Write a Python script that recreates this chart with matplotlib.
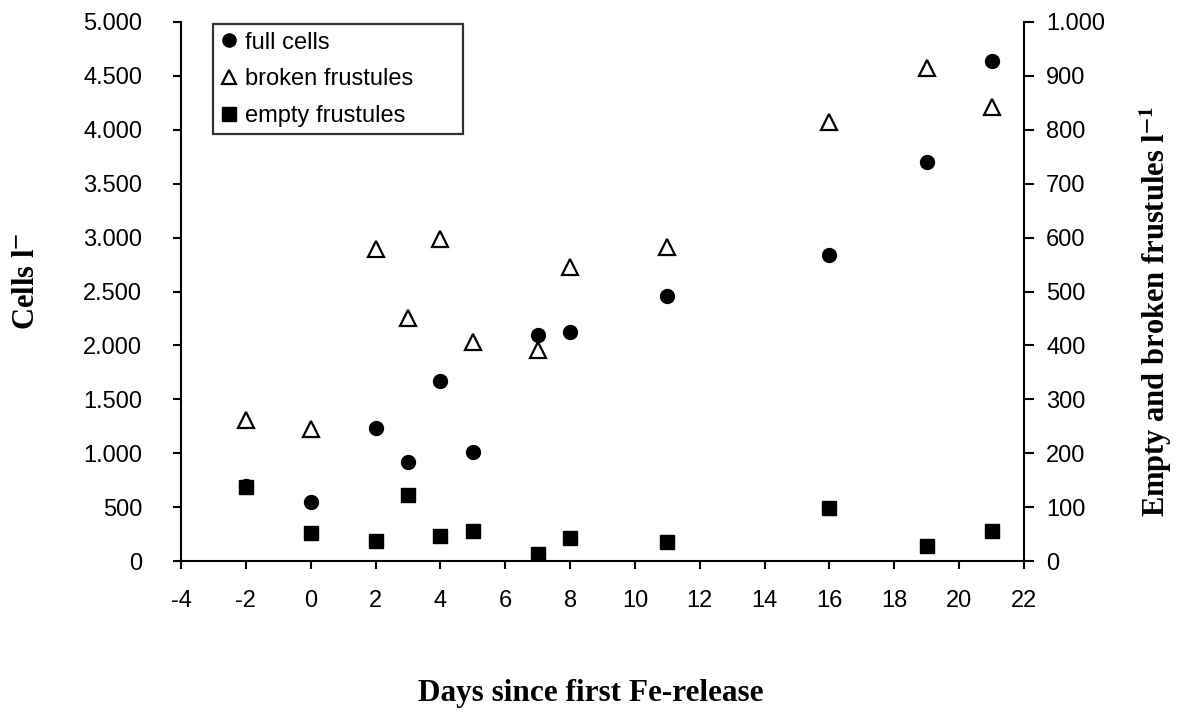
import matplotlib
matplotlib.use("Agg")
import matplotlib.pyplot as plt
from matplotlib.ticker import FuncFormatter, MultipleLocator

plt.rcParams['font.family'] = ['Liberation Sans', 'DejaVu Sans']
plt.rcParams['mathtext.fontset'] = 'stix'
plt.rcParams['axes.unicode_minus'] = False

days = [-2, 0, 2, 3, 4, 5, 7, 8, 11, 16, 19, 21]
full_cells = [696, 543, 1235, 923, 1668, 1015, 2098, 2123, 2460, 2840, 3698, 4636]
broken_frustules = [262, 244, 579, 450, 598, 407, 391, 545, 583, 814, 914, 842]
empty_frustules = [137, 52, 37, 123, 47, 56, 13, 42, 36, 99, 27, 55]

x_ticks = list(range(-4, 23, 2))

fig = plt.figure(figsize=(11.79, 7.16), dpi=100)
ax = fig.add_axes([181/1179, 1 - 561/716, (1024 - 181)/1179, (561 - 22)/716])
ax2 = ax.twinx()

def thousands(v, pos):
    v = int(round(v))
    if v >= 1000:
        return f"{v // 1000}.{v % 1000:03d}"
    return str(v)

def plain(v, pos):
    return f"{int(round(v))}"

ax.set_xlim(-4, 22)
ax.set_ylim(0, 5000)
ax2.set_ylim(0, 1000)
ax.set_xticks(x_ticks)
ax.xaxis.set_major_formatter(FuncFormatter(plain))
ax.yaxis.set_major_locator(MultipleLocator(500))
ax2.yaxis.set_major_locator(MultipleLocator(100))
ax.yaxis.set_major_formatter(FuncFormatter(thousands))
ax2.yaxis.set_major_formatter(FuncFormatter(thousands))

for a in (ax, ax2):
    a.spines['top'].set_visible(False)
    for s in a.spines.values():
        s.set_linewidth(1.5)
ax.spines['right'].set_visible(False)
ax2.spines['left'].set_visible(False)
ax2.spines['bottom'].set_visible(False)
ax.tick_params(axis='x', direction='out', length=6, width=1.5, labelsize=17, pad=15)
ax.tick_params(axis='y', direction='out', length=6, width=1.5, labelsize=17, pad=22)
ax2.tick_params(axis='y', direction='out', length=7, width=1.5, labelsize=17, pad=9)

h1, = ax.plot(days, full_cells, linestyle='none', marker='o', markersize=10,
              markerfacecolor='black', markeredgecolor='black', label='full cells', zorder=3)
h2, = ax2.plot(days, broken_frustules, linestyle='none', marker='^', markersize=11,
               markerfacecolor='white', markeredgecolor='black', markeredgewidth=1.6,
               label='broken frustules', zorder=3)
h3, = ax2.plot(days, empty_frustules, linestyle='none', marker='s', markersize=10,
               markerfacecolor='black', markeredgecolor='black', label='empty frustules', zorder=3)

leg = ax2.legend(handles=[h1, h2, h3], loc='upper left',
                 bbox_to_anchor=(32/843, 0.5, 250/843, (561 - 24)/539 - 0.5), mode='expand',
                 fontsize=17, frameon=True, fancybox=False, handlelength=0.7,
                 handletextpad=0.35, borderpad=0.32, labelspacing=0.62, borderaxespad=0.0,
                 markerscale=0.95)
leg.get_frame().set_edgecolor('black')
leg.get_frame().set_linewidth(1.6)

serif = ['Liberation Serif', 'DejaVu Serif']
fig.text(27/1179, 1 - 281/716, r'Cells l$^{\mathbf{-}}$', rotation=90, ha='center', va='center',
         fontsize=22, fontweight='bold', family=serif)
fig.text(1156/1179, 1 - 312/716, r'Empty and broken frustules l$^{\mathbf{-1}}$', rotation=90,
         ha='center', va='center', fontsize=22, fontweight='bold', family=serif)
fig.text(591/1179, 1 - 693/716, 'Days since first Fe-release', ha='center', va='center',
         fontsize=22.5, fontweight='bold', family=serif)

fig.savefig('out.png', dpi=100)
